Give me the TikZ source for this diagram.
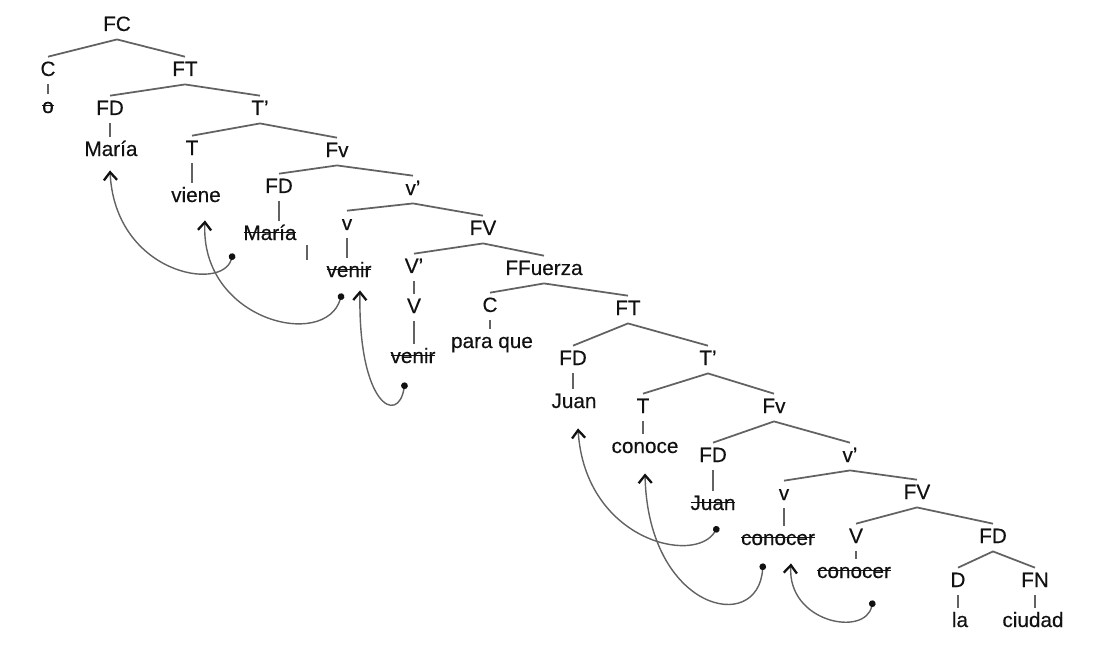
\documentclass[tikz,border=0pt]{standalone}
\usepackage{fontspec}
\setmainfont{Liberation Sans}[FakeBold=0.35]
\usepackage{tikz}
\usetikzlibrary{arrows.meta}
\definecolor{treegray}{HTML}{626262}
\definecolor{ink}{HTML}{111111}
\newsavebox\strkbox
\newcommand\strk[1]{\sbox\strkbox{#1}\rlap{\rule[0.6ex]{\wd\strkbox}{0.8pt}}\usebox\strkbox}

\begin{document}
\begin{tikzpicture}[x=0.02cm,y=-0.02cm,font=\fontsize{11.8}{14}\selectfont,
  >={Straight Barb[length=4.5pt,width=7.5pt,line width=1.3pt,color=ink]}]
 \tikzset{lbl/.style={anchor=base,text=ink,inner sep=2.3pt,text height=8.5pt,text depth=2.3pt},
          br/.style={draw=treegray,line width=1pt},
          mv/.style={treegray,line width=0.8pt,{Circle[length=3.8pt,color=ink]}->}}
 \useasboundingbox (0,0) rectangle (1103,652);
 % main clause
 \node[lbl] (fc) at (117,31) {FC};
 \node[lbl] (c1) at (48,76) {C}; \node[lbl] (ft1) at (185,76) {FT};
 \node[lbl] (nul) at (48,113) {\strk{o}};
 \node[lbl] (fd1) at (110,115) {FD}; \node[lbl] (tb1) at (260,115) {T’};
 \node[lbl] (maria1) at (111,156) {María};
 \node[lbl] (t1) at (192,155) {T}; \node[lbl] (fv1) at (337,157) {Fv};
 \node[lbl] (viene) at (196,202) {viene};
 \node[lbl] (fd2) at (279,193) {FD}; \node[lbl] (vb1) at (413,195) {v’};
 \node[lbl] (maria2) at (270,240) {\strk{María}};
 \node[lbl] (v1) at (347,230) {v}; \node[lbl] (fvv1) at (483,235) {FV};
 \node[lbl] (venir1) at (349,277) {\strk{venir}};
 \node[lbl] (vbar) at (414,273) {V’}; \node[lbl] (ff) at (544,275) {FFuerza};
 \node[lbl] (vv1) at (414,313) {V};
 \node[lbl] (venir2) at (413,363) {\strk{venir}};
 % purpose clause
 \node[lbl] (c2) at (490,312) {C}; \node[lbl] (ft2) at (628,315) {FT};
 \node[lbl] (pq) at (492,348) {para que};
 \node[lbl] (fd3) at (573,365) {FD}; \node[lbl] (tb2) at (708,365) {T’};
 \node[lbl] (juan1) at (574,408) {Juan};
 \node[lbl] (t2) at (643,413) {T}; \node[lbl] (fv2) at (774,413) {Fv};
 \node[lbl] (conoce) at (645,453) {conoce};
 \node[lbl] (fd4) at (713,462) {FD}; \node[lbl] (vb2) at (850,462) {v’};
 \node[lbl] (juan2) at (713,510) {\strk{Juan}};
 \node[lbl] (v2) at (784,500) {v}; \node[lbl] (fvv2) at (917,499) {FV};
 \node[lbl] (conocer1) at (778,545) {\strk{conocer}};
 \node[lbl] (vv2) at (856,543) {V}; \node[lbl] (fd5) at (993,543) {FD};
 \node[lbl] (conocer2) at (854,578) {\strk{conocer}};
 \node[lbl] (d) at (958,587) {D}; \node[lbl] (fn) at (1035,587) {FN};
 \node[lbl] (la) at (960,627) {la}; \node[lbl] (ciudad) at (1033,627) {ciudad};
 % branches
 \foreach \p/\a/\b in {fc/c1/ft1,ft1/fd1/tb1,tb1/t1/fv1,fv1/fd2/vb1,vb1/v1/fvv1,fvv1/vbar/ff,
   ff/c2/ft2,ft2/fd3/tb2,tb2/t2/fv2,fv2/fd4/vb2,vb2/v2/fvv2,fvv2/vv2/fd5,fd5/d/fn}
   {\draw[br] (\a.north) -- (\p.south) -- (\b.north);}
 \foreach \p/\a in {c1/nul,fd1/maria1,t1/viene,fd2/maria2,v1/venir1,vbar/vv1,vv1/venir2,
   c2/pq,fd3/juan1,t2/conoce,fd4/juan2,v2/conocer1,vv2/conocer2,d/la,fn/ciudad}
   {\draw[br] (\p.south) -- (\p.south |- \a.north);}
 \draw[br] (307,245) -- (307,260);
 % movement
 \draw[mv] ([shift={(-37,5)}]maria2.south) .. controls +(-11,39) and +(5,103) .. ([shift={(-1,6)}]maria1.south);
 \draw[mv] ([shift={(-7,8)}]venir1.south) .. controls +(-17,57) and +(-5,100) .. ([shift={(9,10)}]viene.south);
 \draw[mv] ([shift={(-8,11)}]venir2.south) .. controls +(-7,43) and +(-2,115) .. ([shift={(11,5)}]venir1.south);
 \draw[mv] ([shift={(5,8)}]juan2.south) .. controls +(-23,39) and +(7,112) .. ([shift={(4,12)}]juan1.south);
 \draw[mv] ([shift={(-15,10)}]conocer1.south) .. controls +(-5,72) and +(3,137) .. ([shift={(0,12)}]conoce.south);
 \draw[mv] ([shift={(19,14)}]conocer2.south) .. controls +(-8,37) and +(-4,59) .. ([shift={(13,10)}]conocer1.south);
\end{tikzpicture}
\end{document}
